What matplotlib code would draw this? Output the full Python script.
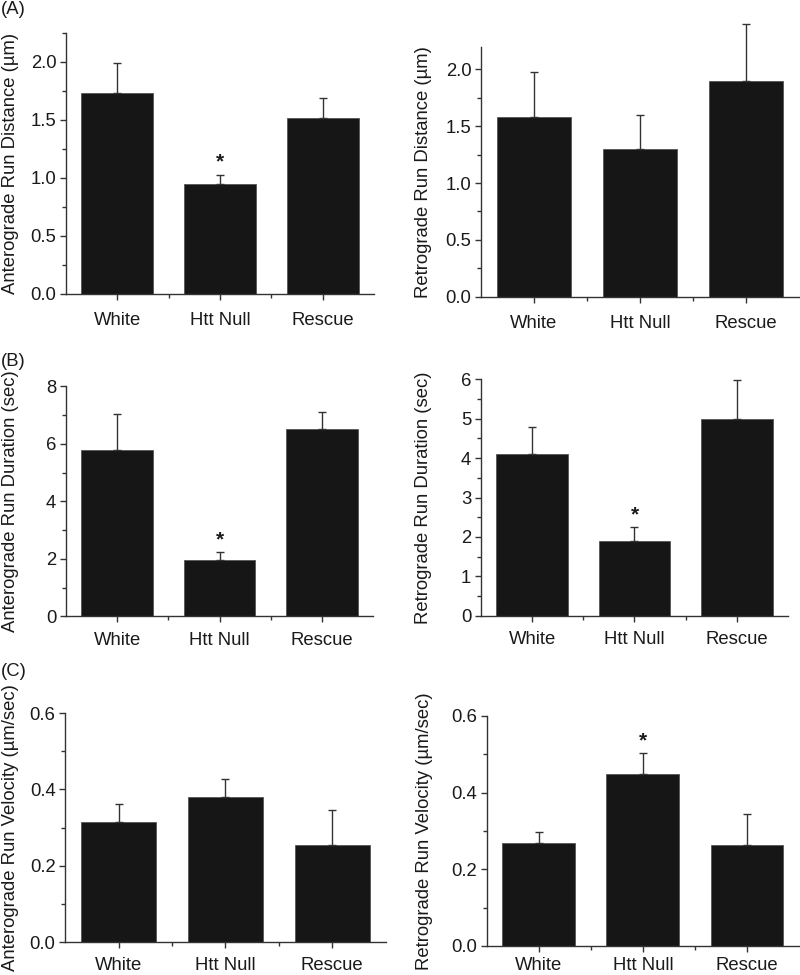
import matplotlib
matplotlib.use("Agg")
import matplotlib.pyplot as plt
from matplotlib.ticker import MultipleLocator

plt.rcParams['font.family'] = ['Liberation Sans', 'DejaVu Sans']

categories = ["White", "Htt Null", "Rescue"]

ant_dist = [1.73, 0.95, 1.52]
ant_dist_err = [0.26, 0.08, 0.17]
ret_dist = [1.58, 1.30, 1.90]
ret_dist_err = [0.40, 0.30, 0.50]
ant_dur = [5.79, 1.95, 6.51]
ant_dur_err = [1.26, 0.28, 0.61]
ret_dur = [4.10, 1.90, 4.99]
ret_dur_err = [0.69, 0.35, 1.00]
ant_vel = [0.315, 0.380, 0.254]
ant_vel_err = [0.048, 0.048, 0.091]
ret_vel = [0.270, 0.450, 0.263]
ret_vel_err = [0.027, 0.054, 0.081]

star_idx = {"ad": [1], "rd": [], "adu": [1], "rdu": [1], "av": [], "rv": [1]}

W, H = 800, 975
fig = plt.figure(figsize=(8, 9.75), dpi=100)

TXT = "#1a1a1a"
AX = "#333333"
BAR = "#161616"
FS = 13.3

def add_axes(px0, px1, ybot, ytop):
    return fig.add_axes([px0 / W, 1 - ybot / H, (px1 - px0) / W, (ybot - ytop) / H])

# x0, x1, ybottom, ytop (pixels), values, errors, ymax, major, minor, fmt, label, key, xpad, ylabel right edge px
panels = [
    (66, 374, 294, 33, ant_dist, ant_dist_err, 2.25, 0.5, 0.25, "{:.1f}", "Anterograde Run Distance (\u00b5m)", "ad", 9.0, 19),
    (481, 799, 296.7, 46.7, ret_dist, ret_dist_err, 2.2, 0.5, 0.25, "{:.1f}", "Retrograde Run Distance (\u00b5m)", "rd", 9.0, 432),
    (66, 373, 616.3, 386.3, ant_dur, ant_dur_err, 8, 2, 1, "{:.0f}", "Anterograde Run Duration (sec)", "adu", 7.0, 19),
    (481, 788, 615.7, 379.3, ret_dur, ret_dur_err, 6, 1, 0.5, "{:.0f}", "Retrograde Run Duration (sec)", "rdu", 7.0, 432),
    (65.3, 385.7, 942.3, 713, ant_vel, ant_vel_err, 0.6, 0.2, 0.1, "{:.1f}", "Anterograde Run Velocity (\u00b5m/sec)", "av", 6.5, 19),
    (486.7, 799, 946, 716, ret_vel, ret_vel_err, 0.6, 0.2, 0.1, "{:.1f}", "Retrograde Run Velocity (\u00b5m/sec)", "rv", 4.0, 433),
]

for (x0, x1, yb, yt, vals, errs, ymax, maj, mnr, fmt, ylabel, key, xpad, ylx) in panels:
    ax = add_axes(x0, x1, yb, yt)
    xs = [1, 2, 3]
    ax.bar(xs, vals, width=0.7, color=BAR, edgecolor="#555555", linewidth=0.6, zorder=2)
    ax.errorbar(xs, vals, yerr=[[0, 0, 0], errs], fmt="none", ecolor=AX,
                elinewidth=1.0, capsize=3, capthick=1.0, zorder=3, clip_on=False)
    for i in star_idx[key]:
        ax.text(xs[i], vals[i] + errs[i] + ymax * 0.012, "*", ha="center", va="bottom",
                fontsize=15, color=TXT, fontweight="bold")
    ax.set_xlim(0.5, 3.5)
    ax.set_ylim(0, ymax)
    ax.set_xticks(xs)
    ax.set_xticklabels(categories)
    ax.set_xticks([1.5, 2.5], minor=True)
    ax.yaxis.set_major_locator(MultipleLocator(maj))
    ax.yaxis.set_minor_locator(MultipleLocator(mnr))
    ax.set_yticklabels([fmt.format(v) for v in ax.get_yticks()])
    ax.set_ylim(0, ymax)
    for s in ["top", "right"]:
        ax.spines[s].set_visible(False)
    for s in ["left", "bottom"]:
        ax.spines[s].set_color(AX)
        ax.spines[s].set_linewidth(1.0)
    ax.tick_params(axis="both", which="major", direction="out", length=4, width=1,
                   color=AX, labelsize=FS, labelcolor=TXT)
    ax.tick_params(axis="y", which="major", pad=3)
    ax.tick_params(axis="x", which="major", pad=xpad)
    ax.tick_params(axis="both", which="minor", direction="out", length=3, width=1, color=AX)
    ax.set_ylabel(ylabel, fontsize=FS, color=TXT)
    ax.yaxis.set_label_coords((ylx - x0) / (x1 - x0), 0.5)

fig.text(1 / W, 1 - 10 / H, "(A)", fontsize=FS, color=TXT, va="center", ha="left")
fig.text(1 / W, 1 - 361 / H, "(B)", fontsize=FS, color=TXT, va="center", ha="left")
fig.text(1 / W, 1 - 672 / H, "(C)", fontsize=FS, color=TXT, va="center", ha="left")

fig.savefig("out.png", dpi=100, facecolor="white")
